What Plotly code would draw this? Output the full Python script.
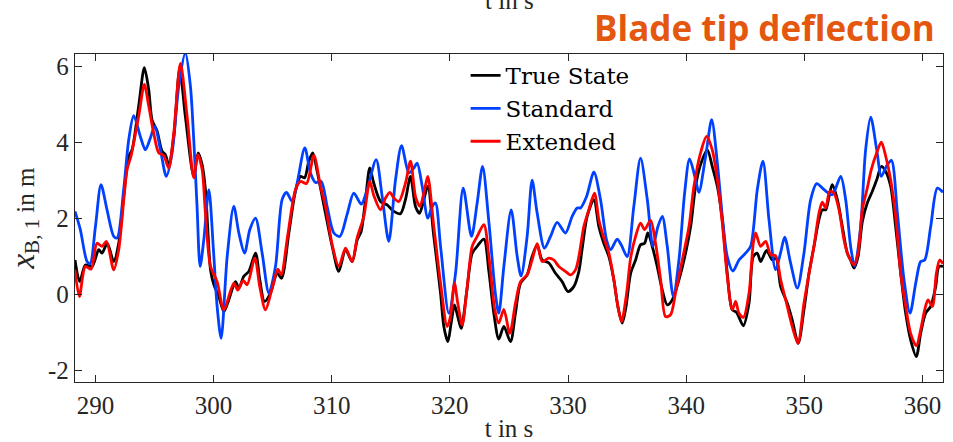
import plotly.graph_objects as go

# ---- data ----
t_true = [288.27, 288.67, 289.15, 289.71, 290.28, 290.56, 291.0, 291.55, 291.97, 292.39, 292.82, 293.1,
          293.66, 294.14, 294.51, 294.79, 295.22, 295.64, 295.92, 296.2, 296.63, 297.13, 297.61, 298.32,
          298.69, 299.03, 299.31, 299.74, 300.02, 300.44, 300.87, 301.29, 301.85, 302.14, 302.56, 302.98,
          303.55, 303.91, 304.31, 304.82, 305.38, 305.75, 306.37, 306.93, 307.36, 307.7, 308.06, 308.4,
          308.77, 309.47, 310.04, 310.6, 311.17, 311.73, 312.16, 312.49, 312.86, 313.22, 313.56, 314.13,
          314.69, 315.26, 315.82, 316.24, 316.67, 317.09, 317.43, 317.8, 318.13, 318.64, 319.21, 319.49,
          319.83, 320.11, 320.39, 320.67, 320.96, 321.41, 321.89, 322.31, 322.88, 323.3, 323.72, 324.14,
          324.57, 325.13, 325.55, 325.98, 326.54, 326.96, 327.39, 327.81, 328.38, 328.94, 329.5, 329.99,
          330.49, 330.92, 331.2, 331.62, 332.19, 332.61, 333.03, 333.46, 333.88, 334.22, 334.59, 334.9,
          335.3, 335.72, 336.14, 336.48, 336.76, 337.13, 337.55, 337.98, 338.4, 338.82, 339.39, 339.95,
          340.38, 340.8, 341.22, 341.79, 342.21, 342.64, 343.06, 343.48, 343.9, 344.27, 344.84, 345.32,
          345.68, 346.02, 346.3, 346.81, 347.29, 347.6, 348.0, 348.56, 348.98, 349.49, 349.97, 350.4,
          350.82, 351.24, 351.52, 351.81, 352.09, 352.37, 352.8, 353.22, 353.64, 353.92, 354.21, 354.55,
          354.91, 355.33, 355.76, 356.13, 356.52, 356.89, 357.31, 357.73, 358.16, 358.58, 359.0, 359.48,
          359.85, 360.27, 360.7, 361.12, 361.4, 361.74]
x_true = [0.90, 0.33, 0.77, 0.73, 1.17, 1.08, 1.34, 0.86, 1.34, 2.57, 3.63, 3.80,
          4.95, 5.96, 5.38, 4.59, 4.29, 3.76, 3.67, 3.41, 4.15, 5.92, 4.68, 3.10,
          3.72, 3.41, 2.75, 0.64, 0.25, -0.06, -0.46, -0.15, 0.33, 0.16, 0.47, 0.60,
          1.08, 0.38, -0.19, 0.03, 0.55, 0.42, 1.61, 2.71, 3.10, 3.06, 3.50, 3.72,
          3.23, 2.13, 1.26, 0.60, 1.17, 0.86, 1.43, 1.65, 2.49, 3.32, 2.92, 2.44,
          2.35, 2.18, 2.12, 2.49, 3.10, 2.31, 2.13, 2.49, 2.84, 1.52, 0.03, -0.85,
          -1.25, -0.76, -0.28, -0.59, -0.90, 0.03, 1.08, 1.26, 1.45, 0.60, -0.50, -1.18,
          -0.85, -1.25, -0.50, 0.29, 0.51, 0.99, 1.30, 0.90, 0.82, 0.55, 0.33, 0.07,
          0.20, 0.60, 1.20, 2.05, 2.49, 1.78, 1.34, 0.99, 0.38, -0.32, -0.76, -0.35,
          0.55, 0.90, 1.30, 1.34, 1.61, 1.26, 0.73, 0.11, -0.28, -0.15, 0.38, 1.08,
          1.78, 2.84, 3.41, 3.80, 3.36, 2.84, 1.96, 0.55, -0.41, -0.48, -0.83, -0.24,
          0.99, 1.08, 0.86, 1.15, 0.90, 0.95, 0.20, -0.24, -0.68, -1.29, -0.41, 0.55,
          1.26, 1.96, 2.22, 2.22, 2.57, 2.88, 2.49, 1.78, 1.08, 0.90, 0.69, 0.99,
          1.91, 2.40, 2.71, 3.01, 3.36, 3.23, 2.84, 1.78, 0.55, -0.50, -1.20, -1.64,
          -1.03, -0.50, -0.32, 0.20, 0.73, 0.73]

t_std = [288.27, 288.72, 289.29, 289.55, 290.0, 290.47, 290.98, 291.55, 291.83, 292.39, 292.82, 293.24,
         293.8, 294.23, 294.65, 295.02, 295.5, 296.0, 296.49, 297.05, 297.61, 298.04, 298.32, 298.6,
         298.86, 299.17, 299.6, 299.98, 300.3, 300.64, 301.15, 301.71, 302.14, 302.62, 303.07, 303.55,
         304.11, 304.68, 305.24, 305.8, 306.17, 306.65, 307.07, 307.72, 308.2, 308.63, 309.11, 309.61,
         310.18, 310.69, 311.3, 311.87, 312.5, 313.0, 313.76, 314.27, 314.83, 315.4, 315.91, 316.53,
         316.95, 317.23, 317.66, 318.13, 318.5, 318.78, 319.21, 319.91, 320.48, 321.13, 321.83, 322.31,
         322.77, 323.3, 323.86, 324.14, 324.57, 325.19, 325.7, 326.03, 326.54, 326.96, 327.39, 328.01,
         328.52, 329.08, 329.79, 330.35, 330.78, 331.06, 331.57, 332.19, 332.75, 333.26, 333.6, 334.16,
         334.5, 335.01, 335.57, 336.14, 336.71, 337.19, 337.61, 337.98, 338.4, 338.91, 339.39, 339.87,
         340.29, 340.8, 341.08, 341.65, 342.16, 342.64, 343.06, 343.48, 343.96, 344.47, 345.03, 345.46,
         346.02, 346.5, 347.01, 347.57, 348.0, 348.34, 348.84, 349.41, 349.97, 350.54, 351.05, 351.67,
         352.37, 353.08, 353.5, 353.92, 354.26, 354.77, 355.19, 355.62, 356.13, 356.52, 356.94, 357.37,
         357.88, 358.44, 358.95, 359.43, 359.85, 360.19, 360.7, 361.26, 361.74]
x_std = [2.18, 1.70, 0.86, 0.80, 1.78, 2.88, 2.22, 1.52, 1.48, 2.75, 4.07, 4.70,
         4.15, 3.80, 4.11, 4.42, 3.80, 3.10, 3.72, 5.47, 6.35, 5.47, 4.07, 2.31,
         0.73, 1.43, 2.75, 1.20, -0.32, -1.16, 0.99, 2.31, 1.61, 1.08, 1.70, 2.00,
         1.08, 0.03, 0.73, 2.49, 2.68, 2.44, 2.92, 3.85, 3.19, 2.94, 2.97, 2.31,
         1.61, 1.52, 2.10, 2.66, 2.37, 2.75, 3.54, 2.57, 1.39, 3.01, 3.91, 3.19,
         3.32, 3.45, 2.84, 2.00, 2.31, 2.40, 1.26, -0.50, 0.55, 2.79, 1.52, 2.40,
         3.36, 1.90, 0.00, -0.50, 0.73, 2.22, 0.99, 0.48, 1.52, 3.00, 2.13, 1.21,
         1.52, 1.89, 1.61, 2.05, 2.27, 2.27, 2.57, 3.21, 2.49, 1.43, 1.17, 1.45,
         1.30, 0.99, 2.31, 3.58, 2.49, 1.26, 1.78, 2.05, 1.26, -0.06, 0.90, 2.66,
         3.56, 3.01, 2.68, 3.63, 4.59, 3.45, 2.05, 0.99, 0.61, 0.90, 1.08, 1.26,
         2.75, 3.50, 1.96, 0.64, 1.10, 1.50, 0.82, 0.16, 1.08, 2.49, 2.91, 2.75,
         2.62, 3.10, 2.49, 1.26, 0.73, 1.78, 3.80, 4.66, 3.80, 3.10, 3.36, 3.52,
         2.13, 0.38, -0.50, 0.29, 0.86, 0.90, 1.78, 2.79, 2.68]

t_ext = [288.27, 288.64, 289.15, 289.63, 290.13, 290.56, 290.93, 291.55, 291.97, 292.68, 293.01, 293.66,
         294.14, 294.51, 294.93, 295.36, 295.78, 296.2, 296.63, 297.19, 297.76, 298.32, 298.66, 299.03,
         299.31, 299.74, 300.3, 300.87, 301.71, 302.05, 302.5, 302.84, 303.49, 303.91, 304.39, 304.96,
         305.44, 305.72, 306.28, 306.93, 307.36, 307.87, 308.49, 309.05, 309.47, 310.04, 310.6, 311.17,
         311.73, 312.15, 312.72, 313.22, 313.56, 314.13, 314.55, 314.92, 315.26, 315.68, 316.24, 316.67,
         317.09, 317.46, 317.86, 318.13, 318.64, 319.21, 319.77, 320.05, 320.39, 320.67, 321.04, 321.47,
         321.89, 322.31, 322.88, 323.3, 323.8, 324.14, 324.57, 325.07, 325.55, 325.98, 326.54, 326.96,
         327.39, 327.81, 328.38, 328.8, 329.22, 329.79, 330.21, 330.63, 330.92, 331.34, 331.76, 332.24,
         332.61, 333.03, 333.46, 333.88, 334.22, 334.53, 334.95, 335.3, 335.72, 336.14, 336.48, 336.99,
         337.41, 337.84, 338.26, 338.68, 339.1, 339.67, 340.24, 340.66, 341.22, 341.73, 342.21, 342.64,
         343.06, 343.48, 343.9, 344.19, 344.47, 344.84, 345.32, 345.68, 345.88, 346.3, 346.73, 347.15,
         347.57, 348.0, 348.56, 348.98, 349.46, 349.97, 350.4, 350.82, 351.24, 351.52, 351.81, 352.15,
         352.51, 352.94, 353.36, 353.7, 354.21, 354.55, 354.91, 355.33, 355.67, 356.13, 356.52, 356.89,
         357.31, 357.73, 358.16, 358.58, 359.0, 359.48, 359.85, 360.19, 360.47, 360.84, 361.18, 361.46,
         361.74]
x_ext = [0.64, -0.06, 0.73, 0.66, 1.34, 1.26, 1.39, 0.64, 1.17, 3.28, 3.63, 4.68,
         5.52, 4.95, 4.24, 3.72, 3.65, 3.32, 4.24, 6.07, 4.68, 3.06, 3.67, 3.28,
         2.13, 0.73, 0.33, -0.41, 0.29, 0.11, 0.36, 0.25, 0.95, 0.20, -0.41, 0.16,
         0.66, 0.51, 1.56, 2.75, 2.97, 2.91, 3.65, 2.84, 2.31, 1.30, 0.73, 1.21,
         0.86, 1.48, 2.05, 2.97, 2.60, 2.22, 2.53, 2.68, 2.53, 2.44, 2.92, 3.50,
         2.57, 2.31, 2.75, 3.10, 1.78, 0.29, -0.85, -0.59, 0.29, -0.24, -0.81, 0.20,
         1.26, 1.52, 1.83, 1.00, -0.40, -0.76, -0.40, -1.03, -0.24, 0.33, 0.51, 0.90,
         1.33, 0.86, 0.95, 0.90, 0.73, 0.60, 0.51, 0.64, 0.99, 1.78, 2.22, 2.66,
         1.96, 1.48, 1.08, 0.38, -0.32, -0.72, 0.00, 0.95, 1.52, 1.87, 1.70, 1.94,
         1.34, 0.38, -0.59, -0.54, 0.03, 0.90, 1.78, 2.84, 3.72, 4.15, 3.80, 3.01,
         1.87, 0.47, -0.41, -0.19, -0.50, -0.61, 0.03, 1.34, 1.61, 1.26, 1.39, 1.04,
         1.01, 0.38, -0.32, -0.85, -1.29, -0.24, 0.55, 1.26, 2.13, 2.42, 2.27, 2.71,
         2.66, 2.22, 1.43, 1.04, 0.77, 1.08, 2.22, 2.79, 3.28, 3.72, 4.00, 3.63,
         3.01, 2.05, 0.55, -0.32, -1.03, -1.36, -0.94, -0.41, -0.15, -0.32, 0.55, 0.90,
         0.80]

y_tickvals = [-2, 0, 2, 4, 6]
y_ticktext = ["-2", "0", "2", "4", "6"]
x_tickvals = [290, 300, 310, 320, 330, 340, 350, 360]

SERIF = "Liberation Serif"

fig = go.Figure()
for name, t, v, col in [("True State", t_true, x_true, "#000000"),
                        ("Standard", t_std, x_std, "#0040FF"),
                        ("Extended", t_ext, x_ext, "#FF0000")]:
    fig.add_trace(go.Scatter(x=t, y=v, mode="lines", name=name,
                             line=dict(color=col, width=2.8, shape="spline", smoothing=0.8)))

axis_common = dict(showline=True, linecolor="#262626", linewidth=1.3, mirror="allticks",
                   ticks="inside", ticklen=7, tickwidth=1.1, tickcolor="#262626",
                   showgrid=False, zeroline=False, automargin=False,
                   tickfont=dict(family=SERIF, size=25, color="#262626"))

ylabel = ("<i><span style='font-size:33px'>x</span></i>"
          "<sub><span style='font-size:21px'>B, 1</span></sub> in m")

fig.update_layout(
    width=953, height=442,
    margin=dict(l=75, r=10, t=54, b=60),
    paper_bgcolor="white", plot_bgcolor="white",
    xaxis=dict(range=[288.27, 361.74], tickvals=x_tickvals, ticklabelstandoff=1,
               title=dict(text="t in s", font=dict(family=SERIF, size=25, color="#262626"), standoff=9),
               **axis_common),
    yaxis=dict(range=[-2.31, 6.32], tickvals=y_tickvals, ticktext=y_ticktext,
               title=dict(text=ylabel, font=dict(family=SERIF, size=25, color="#262626"), standoff=6),
               **axis_common),
    legend=dict(x=0.45, y=1.0, xanchor="left", yanchor="top",
                font=dict(family="DejaVu Serif", size=23, color="#000000"),
                bgcolor="rgba(255,255,255,0)", borderwidth=0, tracegroupgap=0),
    showlegend=True,
)

fig.add_annotation(text="<b>Blade tip deflection</b>", xref="paper", yref="paper",
                   x=1.0, y=1.0, xanchor="right", yanchor="bottom", yshift=1, xshift=-6,
                   showarrow=False,
                   font=dict(family="Open Sans", size=35, color="#E4570F"))
fig.add_annotation(text="t in s", xref="paper", yref="paper",
                   x=0.5, y=1.0, xanchor="center", yanchor="bottom", yshift=38, showarrow=False,
                   font=dict(family=SERIF, size=25, color="#262626"))

fig.write_html("out.html")
